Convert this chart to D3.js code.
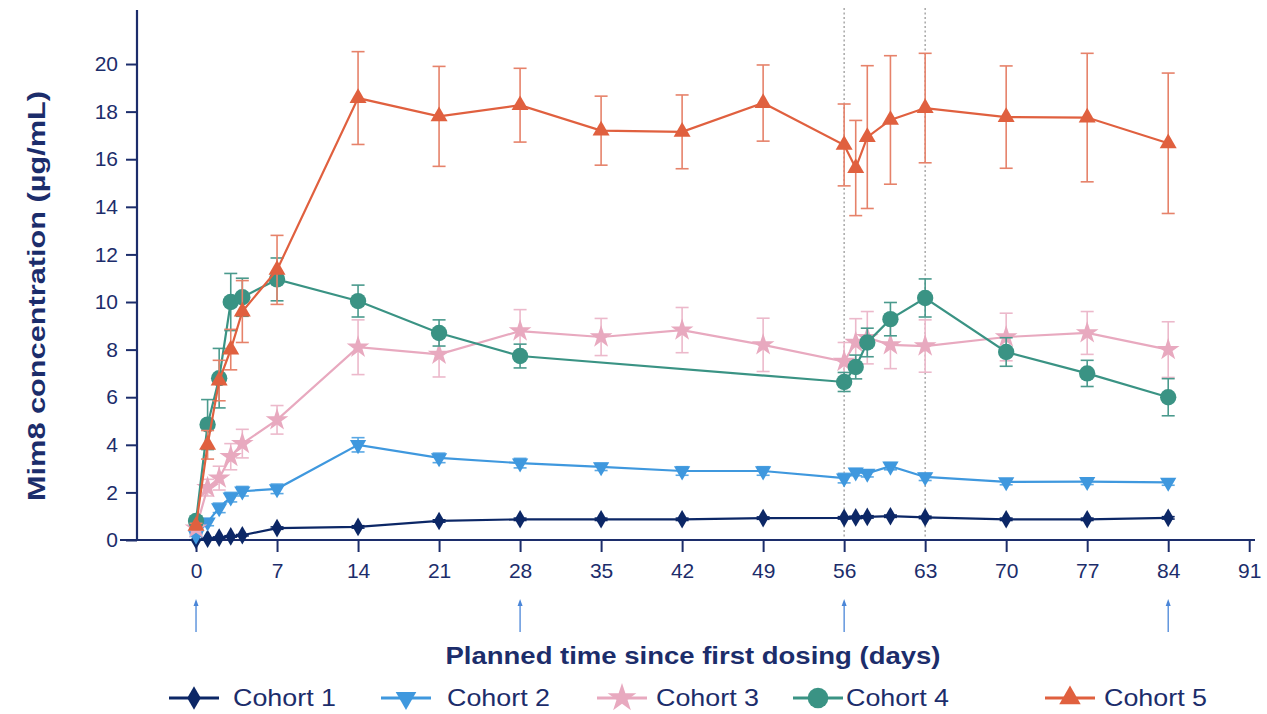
<!DOCTYPE html>
<html>
<head>
<meta charset="utf-8">
<script src="https://cdn.jsdelivr.net/npm/d3@7"></script>
<style>
  html, body { margin: 0; padding: 0; background: #ffffff; }
  svg { display: block; font-family: "Liberation Sans", Arial, sans-serif; }
</style>
</head>
<body>
<svg id="chart" width="1267" height="714"></svg>
<script>
// Planned sampling days
const days = [0, 1, 2, 3, 4, 7, 14, 21, 28, 35, 42, 49, 56, 57, 58, 60, 63, 70, 77, 84];

// Mean Mim8 concentration (µg/mL) per cohort; null = not sampled
const cohort1Mean = [0, 0.05, 0.1, 0.15, 0.2, 0.5, 0.55, 0.8, 0.87, 0.87, 0.87, 0.92, 0.93, 0.95, 0.97, 1.0, 0.95, 0.87, 0.87, 0.93];
const cohort2Mean = [0.2, 0.75, 1.35, 1.8, 2.05, 2.15, 4.0, 3.45, 3.23, 3.07, 2.9, 2.9, 2.6, 2.85, 2.8, 3.1, 2.65, 2.44, 2.45, 2.42];
const cohort3Mean = [0.5, 2.2, 2.6, 3.5, 4.05, 5.05, 8.1, 7.8, 8.78, 8.53, 8.82, 8.2, 7.5, 8.3, 8.5, 8.2, 8.15, 8.53, 8.7, 8.0];
const cohort4Mean = [0.8, 4.85, 6.8, 10.0, 10.2, 10.95, 10.04, 8.7, 7.73, null, null, null, 6.64, 7.27, 8.3, 9.28, 10.17, 7.9, 7.0, 6.0];
const cohort5Mean = [0.6, 4.0, 6.7, 8.0, 9.6, 11.35, 18.57, 17.8, 18.27, 17.2, 17.15, 18.36, 16.6, 15.63, 16.93, 17.65, 18.15, 17.77, 17.75, 16.67];

// Standard deviation per cohort
const cohort1Sd = [0, 0.03, 0.03, 0.03, 0.03, 0.05, 0.05, 0.05, 0.05, 0.05, 0.05, 0.05, 0.05, 0.05, 0.05, 0.05, 0.05, 0.05, 0.05, 0.05];
const cohort2Sd = [0.05, 0.15, 0.2, 0.2, 0.2, 0.2, 0.3, 0.2, 0.2, 0.15, 0.18, 0.18, 0.2, 0.15, 0.15, 0.15, 0.15, 0.12, 0.12, 0.12];
const cohort3Sd = [0.1, 0.35, 0.5, 0.55, 0.6, 0.6, 1.15, 0.95, 0.9, 0.78, 0.95, 1.12, 0.8, 1.0, 1.1, 1.0, 1.1, 1.0, 0.9, 1.17];
const cohort4Sd = [0.2, 1.05, 1.25, 1.2, 0.8, 0.9, 0.67, 0.55, 0.5, null, null, null, 0.4, 0.5, 0.6, 0.7, 0.8, 0.6, 0.55, 0.78];
const cohort5Sd = [0.1, 0.6, 0.85, 0.85, 1.3, 1.45, 1.95, 2.1, 1.55, 1.45, 1.55, 1.6, 1.72, 2.0, 3.0, 2.7, 2.3, 2.15, 2.7, 2.95];

const cohortNames = ["Cohort 1", "Cohort 2", "Cohort 3", "Cohort 4", "Cohort 5"];
const xTicks = [0, 7, 14, 21, 28, 35, 42, 49, 56, 63, 70, 77, 84, 91];
const yTicks = [0, 2, 4, 6, 8, 10, 12, 14, 16, 18, 20];
const dosingDays = [0, 28, 56, 84];
const markerDays = [56, 63];

const cohortColors = ["#0c2766", "#3f98de", "#e8a9bf", "#3a9384", "#e0603f"];
const errorColors  = ["#0c2766", "#5aa8e4", "#ecb9cb", "#4a9a8d", "#e6826a"];

const means = [cohort1Mean, cohort2Mean, cohort3Mean, cohort4Mean, cohort5Mean];
const sds = [cohort1Sd, cohort2Sd, cohort3Sd, cohort4Sd, cohort5Sd];

const series = cohortNames.map((name, i) => ({
  name,
  color: cohortColors[i],
  errColor: errorColors[i],
  points: days.map((d, j) => ({ day: d, mean: means[i][j], sd: sds[i][j] }))
                .filter(p => p.mean !== null)
}));

const ink = "#1c2d6b";
const svg = d3.select("#chart");

const x = d3.scaleLinear().domain([-5.1, 91.5]).range([137, 1255]);
const y = d3.scaleLinear().domain([0, 22.27]).range([540, 10]);

// Marker shapes
const symbolFor = [
  { type: d3.symbolDiamond, size: 100, rotate: 0 },
  { type: d3.symbolTriangle, size: 115, rotate: 180 },
  { type: d3.symbolStar, size: 160, rotate: 0 },
  { type: d3.symbolCircle, size: 210, rotate: 0 },
  { type: d3.symbolTriangle, size: 125, rotate: 0 }
];

// Dotted reference lines at day 56 and 63
svg.append("g").selectAll("line").data(markerDays).join("line")
  .attr("x1", d => x(d)).attr("x2", d => x(d))
  .attr("y1", 8).attr("y2", y(0))
  .attr("stroke", "#9a9a9a").attr("stroke-width", 1.3)
  .attr("stroke-dasharray", "2,2.5");

// Axes
const xAxis = svg.append("g").attr("transform", `translate(0,${y(0)})`)
  .call(d3.axisBottom(x).tickValues(xTicks).tickSize(12).tickPadding(11).tickSizeOuter(0));
xAxis.select(".domain").attr("d", `M120,0H1255`);

const yAxis = svg.append("g").attr("transform", `translate(${x.range()[0]},0)`)
  .call(d3.axisLeft(y).tickValues(yTicks).tickSize(11).tickPadding(8).tickSizeOuter(0));
yAxis.select(".domain").attr("d", `M0,${y.range()[1]}V${y(0)}`);

[xAxis, yAxis].forEach(g => {
  g.select(".domain").attr("stroke", ink).attr("stroke-width", 2.2);
  g.selectAll(".tick line").attr("stroke", ink).attr("stroke-width", 2);
  g.selectAll(".tick text").attr("fill", ink).attr("font-size", 21)
    .attr("font-family", "'Liberation Sans', Arial, sans-serif");
});

// Dosing arrows
const arrowColor = "#4a86d8";
const arrows = svg.append("g");
dosingDays.forEach(d => {
  arrows.append("line").attr("x1", x(d)).attr("x2", x(d))
    .attr("y1", 605).attr("y2", 632)
    .attr("stroke", arrowColor).attr("stroke-width", 1.3);
  arrows.append("path")
    .attr("d", `M${x(d) - 2.5},${606} L${x(d)},${599} L${x(d) + 2.5},${606} Z`)
    .attr("fill", arrowColor);
});

// Axis titles
svg.append("text")
  .attr("x", 693).attr("y", 664)
  .attr("text-anchor", "middle")
  .attr("font-size", 23).attr("font-weight", "bold").attr("fill", ink)
  .attr("textLength", 495).attr("lengthAdjust", "spacingAndGlyphs")
  .text("Planned time since first dosing (days)");

svg.append("text")
  .attr("transform", `translate(45,296) rotate(-90)`)
  .attr("text-anchor", "middle")
  .attr("font-size", 24).attr("font-weight", "bold").attr("fill", ink)
  .attr("textLength", 410).attr("lengthAdjust", "spacingAndGlyphs")
  .text("Mim8 concentration (µg/mL)");

// Series
const line = d3.line().x(p => x(p.day)).y(p => y(p.mean));
const capW = 6.5;

series.forEach((s, i) => {
  const g = svg.append("g");
  // error bars
  const eb = g.append("g").attr("stroke", s.errColor).attr("stroke-width", 1.6).attr("fill", "none");
  s.points.forEach(p => {
    const top = y(p.mean + p.sd), bot = y(Math.max(0, p.mean - p.sd)), cx = x(p.day);
    eb.append("line").attr("x1", cx).attr("x2", cx).attr("y1", top).attr("y2", bot);
    eb.append("line").attr("x1", cx - capW).attr("x2", cx + capW).attr("y1", top).attr("y2", top);
    eb.append("line").attr("x1", cx - capW).attr("x2", cx + capW).attr("y1", bot).attr("y2", bot);
  });
  // line
  g.append("path").datum(s.points)
    .attr("d", line).attr("fill", "none")
    .attr("stroke", s.color).attr("stroke-width", 2.2);
  // markers
  const sym = symbolFor[i];
  g.selectAll("path.m").data(s.points).join("path")
    .attr("class", "m")
    .attr("d", d3.symbol(sym.type, sym.size))
    .attr("transform", p => `translate(${x(p.day)},${y(p.mean)}) rotate(${sym.rotate})`)
    .attr("fill", s.color);
});

// Legend
const legendItems = [
  { cx: 194, tx: 233 },
  { cx: 406, tx: 447 },
  { cx: 622, tx: 656 },
  { cx: 818, tx: 846 },
  { cx: 1070, tx: 1104 }
];
const legend = svg.append("g");
series.forEach((s, i) => {
  const it = legendItems[i];
  const ly = 698;
  legend.append("line").attr("x1", it.cx - 25).attr("x2", it.cx + 25)
    .attr("y1", ly).attr("y2", ly)
    .attr("stroke", s.color).attr("stroke-width", 3);
  const sym = symbolFor[i];
  legend.append("path")
    .attr("d", d3.symbol(sym.type, sym.size * 1.6))
    .attr("transform", `translate(${it.cx},${ly}) rotate(${sym.rotate})`)
    .attr("fill", s.color);
  legend.append("text")
    .attr("x", it.tx).attr("y", ly + 8)
    .attr("font-size", 24).attr("fill", ink)
    .attr("textLength", 103).attr("lengthAdjust", "spacingAndGlyphs")
    .text(s.name);
});
</script>
</body>
</html>
